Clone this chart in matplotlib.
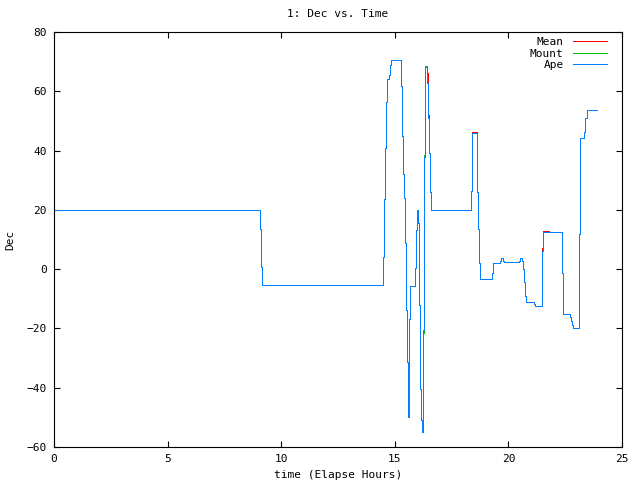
import matplotlib
matplotlib.use("Agg")
import matplotlib.pyplot as plt

# step points (time in hours, Dec in degrees); value holds until next time
time_h = [0, 9.08, 9.11, 9.15, 14.49, 14.54, 14.58, 14.63, 14.67, 14.75, 14.80, 14.85,
          15.26, 15.30, 15.35, 15.39, 15.44, 15.48, 15.52, 15.57, 15.59, 15.61, 15.64, 15.68,
          15.90, 15.93, 15.98, 16.02, 16.05, 16.08, 16.12, 16.17, 16.20, 16.23, 16.25, 16.30,
          16.34, 16.43, 16.45, 16.47, 16.52, 16.56, 16.61, 18.34, 18.38, 18.41, 18.58, 18.60,
          18.63, 18.68, 18.72, 18.76, 19.22, 19.26, 19.31, 19.34, 19.63, 19.66, 19.78, 19.82,
          20.47, 20.50, 20.60, 20.65, 20.70, 20.74, 20.79, 21.13, 21.18, 21.47, 21.49, 21.54,
          21.80, 22.37, 22.42, 22.71, 22.76, 22.80, 22.86, 23.12, 23.16, 23.34, 23.38, 23.45,
          23.89]

ape_dec = [19.9, 13.5, 0.8, -5.4, 4.2, 23.7, 40.9, 56.5, 64.0, 65.6, 68.9, 70.6,
           61.8, 44.9, 32.0, 24.0, 8.8, -13.8, -31.2, -43.3, -49.8, -38.0, -16.9, -5.7,
           0.3, 13.2, 19.9, 15.6, 13.2, -12.1, -40.5, -50.9, -55.1, -50.9, -20.5, 37.9,
           68.1, 62.7, 62.7, 50.9, 39.1, 26.1, 19.9, 26.4, 39.3, 46.0, 46.0, 39.3,
           25.9, 13.4, 2.2, -3.2, -3.4, -1.2, 0.3, 2.0, 2.9, 3.6, 2.9, 2.3,
           2.9, 3.6, 2.9, -0.1, -4.2, -9.0, -11.1, -11.8, -12.4, -6.5, 6.2, 12.4,
           12.4, -1.2, -15.1, -16.1, -17.4, -18.9, -20.0, 11.8, 44.1, 46.2, 50.9, 53.6,
           53.6]

mean_dec = [19.9, 13.5, 0.8, -5.4, 4.2, 23.7, 40.9, 56.5, 64.0, 65.6, 68.9, 70.6,
            61.8, 44.9, 32.0, 24.0, 8.8, -13.8, -31.2, -43.0, -49.8, -38.0, -16.9, -5.7,
            0.3, 13.2, 19.9, 15.6, 13.2, -12.1, -40.5, -50.9, -52.0, -50.9, -20.5, 37.9,
            68.1, 66.0, 62.7, 52.0, 39.1, 26.1, 19.9, 26.4, 39.3, 46.3, 46.3, 40.0,
            25.9, 13.4, 2.2, -3.2, -3.4, -1.2, 0.3, 2.0, 2.9, 3.6, 2.9, 2.3,
            2.9, 3.6, 2.9, -0.1, -4.2, -9.0, -11.1, -11.8, -12.4, -6.5, 7.0, 12.9,
            12.4, -1.2, -15.1, -16.1, -17.4, -18.9, -20.0, 11.8, 44.1, 46.2, 50.9, 53.6,
            53.6]

mount_dec = [19.9, 13.5, 0.8, -5.4, 4.2, 23.7, 40.9, 56.5, 64.0, 65.6, 68.9, 70.6,
             61.8, 44.9, 32.0, 24.0, 8.8, -13.8, -31.2, -43.3, -49.8, -38.0, -16.9, -5.7,
             0.3, 13.2, 19.9, 15.6, 13.2, -12.1, -40.5, -50.9, -55.1, -50.9, -21.5, 38.5,
             68.5, 62.7, 62.7, 50.9, 39.1, 26.1, 19.9, 26.4, 39.3, 46.0, 46.0, 39.3,
             25.9, 13.4, 2.2, -3.2, -3.4, -1.2, 0.3, 2.0, 2.9, 3.6, 2.9, 2.3,
             2.9, 3.6, 2.9, -0.1, -4.2, -9.0, -11.1, -11.8, -12.4, -6.5, 6.2, 12.4,
             12.4, -1.2, -15.1, -16.1, -17.4, -18.9, -20.0, 11.8, 44.1, 46.2, 50.9, 53.6,
             53.6]

series_names = ["Mean", "Mount", "Ape"]
series_colors = ["#ff0000", "#00c000", "#0080ff"]
x_ticks = [0, 5, 10, 15, 20, 25]
y_ticks = [-60, -40, -20, 0, 20, 40, 60, 80]

plt.rcParams['font.family'] = ['DejaVu Sans Mono']
plt.rcParams['font.size'] = 8

fig = plt.figure(figsize=(6.4, 4.8), dpi=100)
ax = fig.add_axes([54/640, 33/480, 568/640, 415/480])

for name, vals, col in zip(series_names, [mean_dec, mount_dec, ape_dec], series_colors):
    ax.plot(time_h, vals, drawstyle='steps-post', color=col, lw=0.72, label=name,
            antialiased=False)

ax.set_xlim(0, 25)
ax.set_ylim(-60, 80)
ax.set_xticks(x_ticks)
ax.set_yticks(y_ticks)
ax.tick_params(direction='in', length=4, width=0.8, top=True, right=True, pad=5)
for s in ax.spines.values():
    s.set_linewidth(0.8)

ax.set_title("1: Dec vs. Time", fontsize=8, pad=11)
ax.set_xlabel("time (Elapse Hours)", fontsize=8, labelpad=4)
ax.set_ylabel("Dec", fontsize=8, labelpad=8)

leg = ax.legend(loc='upper right', bbox_to_anchor=(0.9736, 0.988), frameon=False,
                markerfirst=False, fontsize=8, handlelength=3.1, labelspacing=0.15,
                borderaxespad=0, borderpad=0, handletextpad=0.8)
for h in leg.get_lines():
    h.set_antialiased(False)

fig.savefig("out.png", dpi=100)
